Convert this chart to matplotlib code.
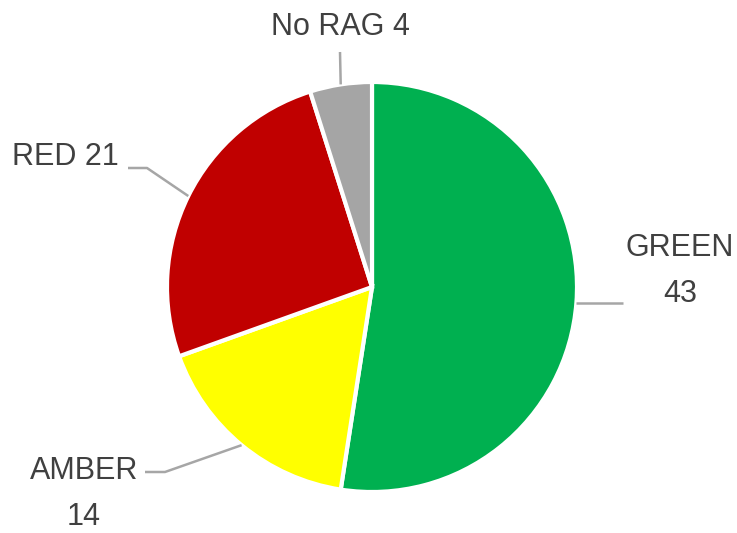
import numpy as np
import matplotlib
matplotlib.use("Agg")
import matplotlib.pyplot as plt

# RAG status counts
labels = ["GREEN", "AMBER", "RED", "No RAG"]
counts = [43, 14, 21, 4]
colors = ["#00B050", "#FFFF00", "#C00000", "#A5A5A5"]

W, H = 737, 533

fig = plt.figure(figsize=(W / 100, H / 100), dpi=100)
ax = fig.add_axes([0, 0, 1, 1])
ax.set_xlim(0, W)
ax.set_ylim(0, H)
ax.set_aspect("equal")
ax.axis("off")

# pie drawn in pixel coords (y flipped so top of image is H)
cx, cy, r = 372, H - 287, 205
wedges, _ = ax.pie(counts, colors=colors, startangle=90, counterclock=False,
                   center=(cx, cy), radius=r,
                   wedgeprops=dict(edgecolor="white", linewidth=3))
ax.set_xlim(0, W)
ax.set_ylim(0, H)

# label layout: text position, elbow point, line end near text
layout = {
    "GREEN":  dict(text=(680, 271), txt="GREEN\n43", elbow=None, end=(623, 302)),
    "AMBER":  dict(text=(84, 494), txt="AMBER\n14", elbow=(165, 472), end=(145, 472)),
    "RED":    dict(text=(65, 157), txt="RED 21", elbow=(147, 168), end=(128, 168)),
    "No RAG": dict(text=(340, 27), txt="No RAG 4", elbow=None, end=(340, 52)),
}

line_col = "#A6A6A6"
text_col = "#404040"
for w, name in zip(wedges, labels):
    mid = np.deg2rad((w.theta1 + w.theta2) / 2)
    ax_pt = (cx + r * np.cos(mid), cy + r * np.sin(mid))
    lay = layout[name]
    pts = [ax_pt]
    if lay["elbow"] is not None:
        pts.append((lay["elbow"][0], H - lay["elbow"][1]))
    end = (lay["end"][0], H - lay["end"][1])
    if name == "GREEN":
        end = (end[0], ax_pt[1])
    pts.append(end)
    xs, ys = zip(*pts)
    ax.plot(xs, ys, color=line_col, lw=1.8, solid_capstyle="butt")
    tx, ty = lay["text"]
    ax.text(tx, H - ty, lay["txt"], ha="center", va="center", color=text_col,
            fontsize=22, family="Liberation Sans", linespacing=1.7)

fig.savefig("out.png", dpi=100)
